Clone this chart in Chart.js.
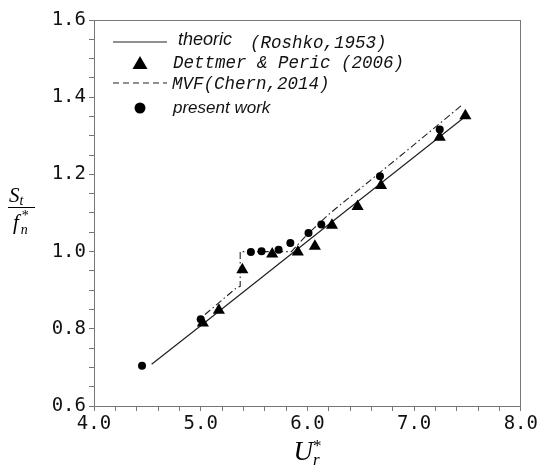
<!DOCTYPE html>
<html>
<head>
<meta charset="utf-8">
<script src="https://cdn.jsdelivr.net/npm/chart.js@4"></script>
<style>
  html, body { margin: 0; padding: 0; background: #fff; }
</style>
</head>
<body>
<canvas id="chart" width="540" height="465"></canvas>
<script>
// values
const roshkoU = [4.54, 5.0, 6.0, 7.0, 7.48];
const roshkoS = [0.708, 0.808, 1.027, 1.245, 1.35];

const dettmerU = [5.02, 5.17, 5.39, 5.67, 5.91, 6.07, 6.23, 6.47, 6.69, 7.24, 7.48];
const dettmerS = [0.815, 0.848, 0.953, 0.994, 0.999, 1.014, 1.068, 1.117, 1.171, 1.296, 1.352];

const mvfU = [5.04, 5.33, 5.37, 5.37, 5.85, 6.0, 6.21, 6.96, 7.45];
const mvfS = [0.837, 0.905, 0.91, 1.0, 1.0, 1.045, 1.099, 1.268, 1.38];

const presentU = [4.45, 5.0, 5.47, 5.57, 5.73, 5.84, 6.01, 6.13, 6.68, 7.24];
const presentS = [0.704, 0.825, 0.999, 1.001, 1.005, 1.022, 1.048, 1.07, 1.195, 1.316];

const xLabels = [4.0, 5.0, 6.0, 7.0, 8.0];
const yLabels = [0.6, 0.8, 1.0, 1.2, 1.4, 1.6];

const pts = (xs, ys) => xs.map((x, i) => ({ x: x, y: ys[i] }));
const r2 = v => Math.round(v * 100) / 100;

function minorTicks(lo, hi, step) {
  const out = [];
  for (let v = lo; v <= hi + 1e-9; v += step) out.push({ value: r2(v) });
  return out;
}

const tickFont = { family: "'DejaVu Sans Mono', monospace", size: 19 };
const axisGray = "#777";

const extras = {
  id: "extras",
  afterDraw(chart) {
    const { ctx, chartArea: a } = chart;
    ctx.save();

    // top and right frame
    ctx.strokeStyle = axisGray;
    ctx.lineWidth = 1;
    ctx.beginPath();
    ctx.moveTo(a.left, Math.round(a.top) + 0.5);
    ctx.lineTo(a.right, Math.round(a.top) + 0.5);
    ctx.moveTo(Math.round(a.right) - 0.5, a.top);
    ctx.lineTo(Math.round(a.right) - 0.5, a.bottom);
    ctx.stroke();

    // legend
    const L = a.left, T = a.top;
    ctx.strokeStyle = "#222";
    ctx.fillStyle = "#000";
    ctx.lineWidth = 1.2;
    ctx.beginPath();
    ctx.moveTo(L + 19, T + 22);
    ctx.lineTo(L + 73, T + 22);
    ctx.stroke();

    ctx.setLineDash([6, 4]);
    ctx.beginPath();
    ctx.moveTo(L + 19, T + 63);
    ctx.lineTo(L + 73, T + 63);
    ctx.stroke();
    ctx.setLineDash([]);

    // triangle
    ctx.beginPath();
    ctx.moveTo(L + 46, T + 36);
    ctx.lineTo(L + 53.5, T + 49);
    ctx.lineTo(L + 38.5, T + 49);
    ctx.closePath();
    ctx.fill();
    // circle
    ctx.beginPath();
    ctx.arc(L + 46, T + 88, 5.5, 0, Math.PI * 2);
    ctx.fill();

    ctx.textBaseline = "middle";
    ctx.textAlign = "left";
    ctx.fillStyle = "#111";
    ctx.font = "italic 18px 'Liberation Sans', Arial, sans-serif";
    ctx.fillText("theoric", L + 84, T + 20);
    ctx.font = "italic 17px 'Liberation Sans', Arial, sans-serif";
    ctx.fillText("present work", L + 79, T + 88);
    ctx.font = "italic 17.5px 'Liberation Mono', monospace";
    ctx.fillText("(Roshko,1953)", L + 156, T + 23);
    ctx.fillText("Dettmer & Peric (2006)", L + 79, T + 43);
    ctx.fillText("MVF(Chern,2014)", L + 78, T + 64);

    // x axis title  U*_r
    ctx.fillStyle = "#000";
    ctx.textBaseline = "alphabetic";
    ctx.font = "italic 27px 'Liberation Serif', serif";
    const ux = chart.scales.x.getPixelForValue(6.0) - 14;
    ctx.fillText("U", ux, 460);
    const uw = ctx.measureText("U").width;
    ctx.font = "italic 17px 'Liberation Serif', serif";
    ctx.fillText("r", ux + uw, 465);
    ctx.font = "17px 'Liberation Serif', serif";
    ctx.fillText("*", ux + uw, 451);

    // y axis title  S_t / f*_n
    const cy = (a.top + a.bottom) / 2 - 6;
    ctx.font = "italic 21px 'Liberation Serif', serif";
    ctx.fillText("S", 9, cy - 5);
    const sw = ctx.measureText("S").width;
    ctx.font = "italic 14px 'Liberation Serif', serif";
    ctx.fillText("t", 9 + sw, cy - 2);
    ctx.lineWidth = 1;
    ctx.strokeStyle = "#000";
    ctx.beginPath();
    ctx.moveTo(8, cy + 0.5);
    ctx.lineTo(35, cy + 0.5);
    ctx.stroke();
    ctx.font = "italic 21px 'Liberation Serif', serif";
    ctx.fillText("f", 13, cy + 22);
    const fw = ctx.measureText("f").width;
    ctx.font = "italic 14px 'Liberation Serif', serif";
    ctx.fillText("n", 13 + fw + 2, cy + 27);
    ctx.font = "14px 'Liberation Serif', serif";
    ctx.fillText("*", 13 + fw + 3, cy + 13);

    ctx.restore();
  }
};

new Chart(document.getElementById("chart"), {
  type: "scatter",
  data: {
    datasets: [
      {
        label: "Dettmer & Peric (2006)",
        data: pts(dettmerU, dettmerS),
        pointStyle: "triangle",
        pointRadius: 7,
        backgroundColor: "#000",
        borderColor: "#000",
        borderWidth: 0,
      },
      {
        label: "present work",
        data: pts(presentU, presentS),
        pointStyle: "circle",
        pointRadius: 4,
        backgroundColor: "#000",
        borderColor: "#000",
        borderWidth: 0,
      },
      {
        label: "MVF(Chern,2014)",
        data: pts(mvfU, mvfS),
        showLine: true,
        pointRadius: 0,
        borderColor: "#222",
        borderWidth: 1.1,
        borderDash: [7, 3, 1.5, 3],
      },
      {
        label: "theoric (Roshko,1953)",
        data: pts(roshkoU, roshkoS),
        showLine: true,
        pointRadius: 0,
        borderColor: "#222",
        borderWidth: 1.2,
      },
    ],
  },
  options: {
    responsive: false,
    animation: false,
    layout: { padding: { top: 20, right: 18, left: 0, bottom: 0 } },
    plugins: {
      legend: { display: false },
      tooltip: { enabled: false },
    },
    scales: {
      x: {
        type: "linear",
        min: 4,
        max: 8,
        afterBuildTicks: s => { s.ticks = minorTicks(4, 8, 0.2); },
        afterFit: s => { s.height = 59; },
        ticks: {
          autoSkip: false,
          maxRotation: 0,
          padding: 2,
          color: "#111",
          font: tickFont,
          callback: v => xLabels.includes(r2(v)) ? r2(v).toFixed(1) : "",
        },
        grid: { drawOnChartArea: false, drawTicks: true, tickLength: 5, tickColor: axisGray, color: axisGray },
        border: { display: true, color: axisGray, width: 1 },
      },
      y: {
        type: "linear",
        min: 0.6,
        max: 1.6,
        afterBuildTicks: s => { s.ticks = minorTicks(0.6, 1.6, 0.05); },
        afterFit: s => { s.width = 94; },
        ticks: {
          autoSkip: false,
          padding: 3,
          color: "#111",
          font: tickFont,
          callback: v => yLabels.includes(r2(v)) ? r2(v).toFixed(1) : "",
        },
        grid: { drawOnChartArea: false, drawTicks: true, tickLength: 5, tickColor: axisGray, color: axisGray },
        border: { display: true, color: axisGray, width: 1 },
      },
    },
  },
  plugins: [extras],
});
</script>
</body>
</html>
